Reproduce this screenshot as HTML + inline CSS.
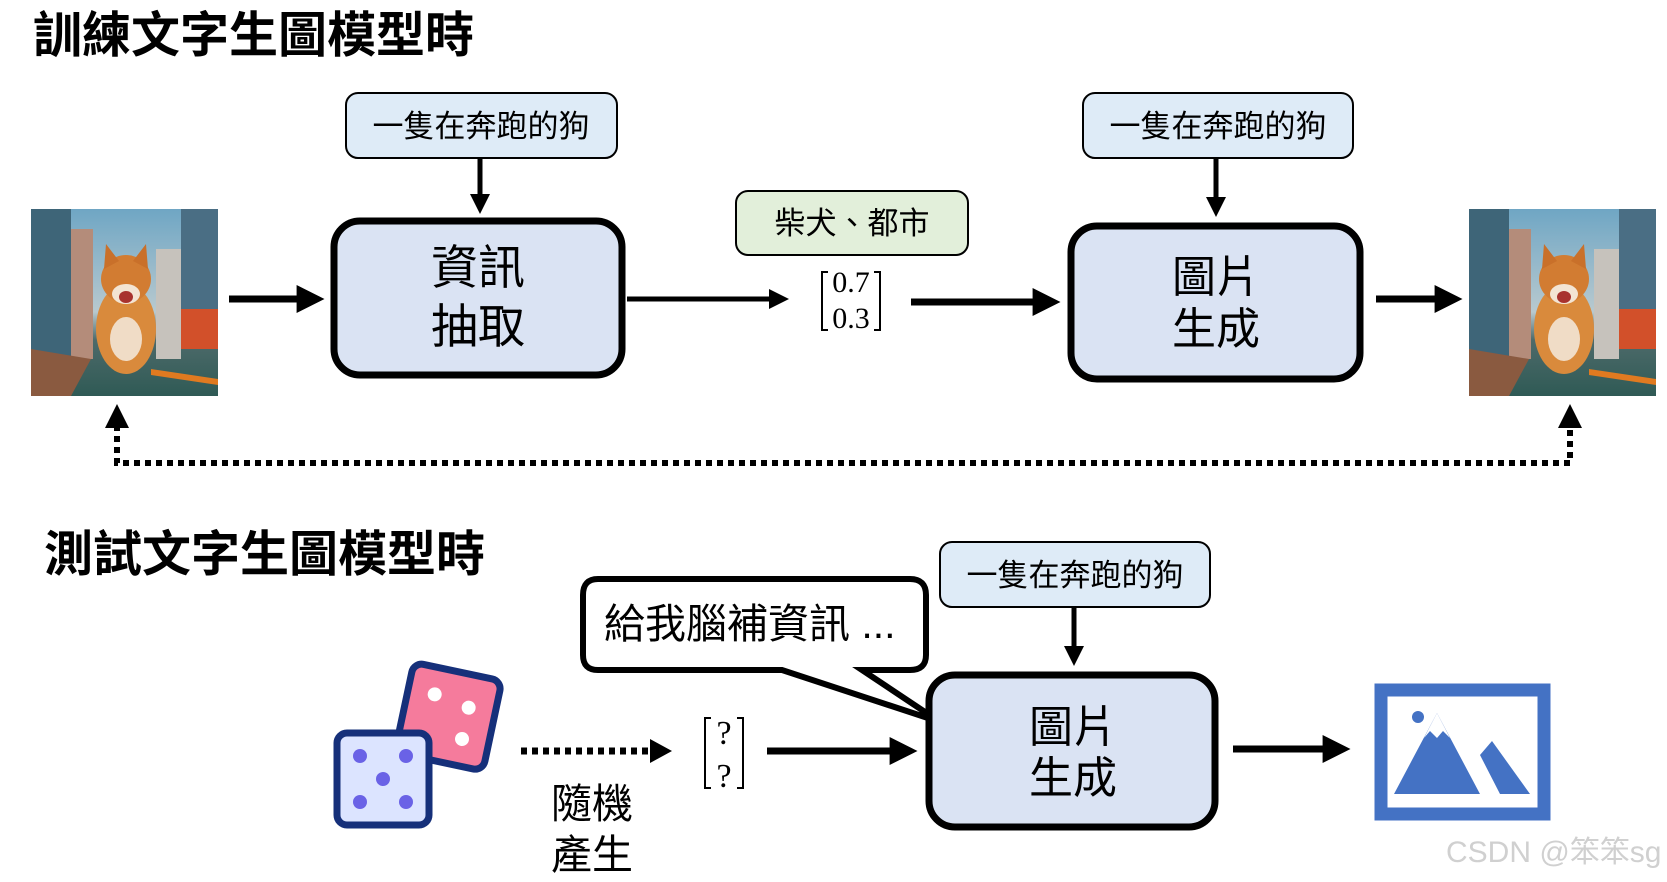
<!DOCTYPE html>
<html><head><meta charset="utf-8"><style>
html,body{margin:0;padding:0;background:#fff;}
svg{display:block;}
text{font-family:"Liberation Sans","Noto Sans CJK TC",sans-serif;}
.s{font-family:"Liberation Serif",serif;}
</style></head><body>
<svg width="1667" height="882" viewBox="0 0 1667 882" xmlns="http://www.w3.org/2000/svg">
<defs>
<marker id="ah" markerWidth="4" markerHeight="4" refX="2.2" refY="2" orient="auto" markerUnits="strokeWidth"><path d="M0,0 L4,2 L0,4 z" fill="#000"/></marker>
<linearGradient id="sky" x1="0" y1="0" x2="0" y2="1"><stop offset="0" stop-color="#6fa6c4"/><stop offset="0.55" stop-color="#b8c9cf"/><stop offset="0.7" stop-color="#4d6a6a"/><stop offset="1" stop-color="#2f5a55"/></linearGradient>
<g id="dog">
<rect x="0" y="0" width="187" height="187" fill="url(#sky)"/>
<rect x="0" y="0" width="40" height="150" fill="#3e6578"/>
<rect x="150" y="0" width="37" height="140" fill="#4a6e84"/>
<rect x="40" y="20" width="22" height="130" fill="#b48c7a"/>
<rect x="125" y="40" width="25" height="110" fill="#c6c2bc"/>
<rect x="150" y="100" width="37" height="40" fill="#d2502a"/>
<path d="M0,187 L0,140 L60,150 L40,187z" fill="#8a5a40"/>
<path d="M120,160 L187,170 L187,176 L120,166z" fill="#e07a20"/>
<ellipse cx="95" cy="120" rx="30" ry="45" fill="#d98a3c"/>
<ellipse cx="95" cy="70" rx="25" ry="24" fill="#d27c32"/>
<path d="M73,60 L75,35 L88,52z M117,60 L115,35 L102,52z" fill="#c9702a"/>
<ellipse cx="95" cy="85" rx="14" ry="10" fill="#f3e4d3"/>
<ellipse cx="95" cy="130" rx="16" ry="22" fill="#f0dcc6"/>
<ellipse cx="95" cy="88" rx="7" ry="6" fill="#a8322e"/>
</g>
</defs>

<text x="33" y="52" font-size="49" font-weight="bold">訓練文字生圖模型時</text>

<use href="#dog" x="31" y="209"/>
<rect x="346" y="93" width="271" height="65" rx="12" fill="#deebf7" stroke="#000" stroke-width="2"/>
<text x="481" y="137" font-size="31" text-anchor="middle">一隻在奔跑的狗</text>
<line x1="480" y1="158" x2="480" y2="205" stroke="#000" stroke-width="5" marker-end="url(#ah)"/>
<rect x="334" y="221" width="288" height="154" rx="26" fill="#dae3f3" stroke="#000" stroke-width="7"/>
<text x="478" y="284" font-size="47" text-anchor="middle">資訊</text>
<text x="478" y="343" font-size="47" text-anchor="middle">抽取</text>
<line x1="229" y1="299" x2="312" y2="299" stroke="#000" stroke-width="7" marker-end="url(#ah)"/>
<line x1="627" y1="299" x2="780" y2="299" stroke="#000" stroke-width="5" marker-end="url(#ah)"/>

<rect x="736" y="191" width="232" height="64" rx="12" fill="#e2efda" stroke="#000" stroke-width="2"/>
<text x="852" y="234" font-size="31" text-anchor="middle">柴犬、都市</text>
<text x="851" y="292" font-size="30" class="s" text-anchor="middle">0.7</text>
<text x="851" y="328" font-size="30" class="s" text-anchor="middle">0.3</text>
<path d="M828,272 h-6 v58 h6 M874,272 h6 v58 h-6" fill="none" stroke="#000" stroke-width="2"/>
<line x1="911" y1="302" x2="1048" y2="302" stroke="#000" stroke-width="7" marker-end="url(#ah)"/>

<rect x="1083" y="93" width="270" height="65" rx="12" fill="#deebf7" stroke="#000" stroke-width="2"/>
<text x="1218" y="137" font-size="31" text-anchor="middle">一隻在奔跑的狗</text>
<line x1="1216" y1="158" x2="1216" y2="208" stroke="#000" stroke-width="5" marker-end="url(#ah)"/>
<rect x="1071" y="226" width="289" height="153" rx="26" fill="#dae3f3" stroke="#000" stroke-width="7"/>
<text x="1216" y="292" font-size="44" text-anchor="middle">圖片</text>
<text x="1216" y="344" font-size="44" text-anchor="middle">生成</text>
<line x1="1376" y1="299" x2="1450" y2="299" stroke="#000" stroke-width="7" marker-end="url(#ah)"/>
<use href="#dog" x="1469" y="209"/>

<path d="M117,425 V463 H1570 V425" fill="none" stroke="#000" stroke-width="6" stroke-dasharray="6,5"/>
<path d="M105,428 L117,404 L129,428z M1558,428 L1570,404 L1582,428z" fill="#000"/>

<text x="44" y="571" font-size="49" font-weight="bold">測試文字生圖模型時</text>

<rect x="940" y="542" width="270" height="65" rx="12" fill="#deebf7" stroke="#000" stroke-width="2"/>
<text x="1075" y="586" font-size="31" text-anchor="middle">一隻在奔跑的狗</text>
<line x1="1074" y1="607" x2="1074" y2="657" stroke="#000" stroke-width="5" marker-end="url(#ah)"/>

<path d="M598,579 H910 Q926,579 926,595 V655 Q926,670 910,670 H862 L940,722 L782,670 H598 Q583,670 583,655 V595 Q583,579 598,579z" fill="#fff" stroke="#000" stroke-width="6" stroke-linejoin="miter"/>
<text x="604" y="638" font-size="41">給我腦補資訊 ...</text>

<rect x="929" y="675" width="286" height="152" rx="26" fill="#dae3f3" stroke="#000" stroke-width="7"/>
<text x="1073" y="742" font-size="44" text-anchor="middle">圖片</text>
<text x="1073" y="793" font-size="44" text-anchor="middle">生成</text>

<g transform="rotate(12 445 718)">
<rect x="403" y="670" width="90" height="92" rx="10" fill="#f57b9c" stroke="#16307a" stroke-width="7"/>
<circle cx="430" cy="697" r="7" fill="#fff"/><circle cx="466" cy="703" r="7" fill="#fff"/><circle cx="466" cy="735" r="7" fill="#fff"/>
</g>
<rect x="337" y="733" width="92" height="92" rx="10" fill="#dce4ff" stroke="#16307a" stroke-width="7"/>
<circle cx="360" cy="756" r="7" fill="#6a62e6"/><circle cx="406" cy="756" r="7" fill="#6a62e6"/><circle cx="383" cy="779" r="7" fill="#6a62e6"/><circle cx="360" cy="802" r="7" fill="#6a62e6"/><circle cx="406" cy="802" r="7" fill="#6a62e6"/>

<line x1="521" y1="751" x2="652" y2="751" stroke="#000" stroke-width="7" stroke-dasharray="6,5"/>
<path d="M650,739 L672,751 L650,763z" fill="#000"/>
<text x="551" y="818" font-size="41">隨機</text>
<text x="551" y="869" font-size="41">產生</text>

<text x="724" y="744" font-size="34" class="s" text-anchor="middle">?</text>
<text x="724" y="787" font-size="34" class="s" text-anchor="middle">?</text>
<path d="M711,718 h-6 v70 h6 M737,718 h6 v70 h-6" fill="none" stroke="#000" stroke-width="2"/>
<line x1="767" y1="751" x2="905" y2="751" stroke="#000" stroke-width="7" marker-end="url(#ah)"/>
<line x1="1233" y1="749" x2="1338" y2="749" stroke="#000" stroke-width="7" marker-end="url(#ah)"/>

<rect x="1381" y="690" width="163" height="124" fill="#fff" stroke="#4472c4" stroke-width="13"/>
<circle cx="1418" cy="717" r="6" fill="#4472c4"/>
<path d="M1394,794 L1437,713 L1480,794z" fill="#4472c4"/>
<path d="M1424,738 L1430,731 L1437,738 L1443,731 L1450,738 L1437,713z" fill="#fff"/>
<path d="M1480,755 L1492,741 L1530,794 L1500,794z" fill="#4472c4"/>

<text x="1446" y="862" font-size="30" fill="#d0d0d0">CSDN @笨笨sg</text>
</svg>
</body></html>
